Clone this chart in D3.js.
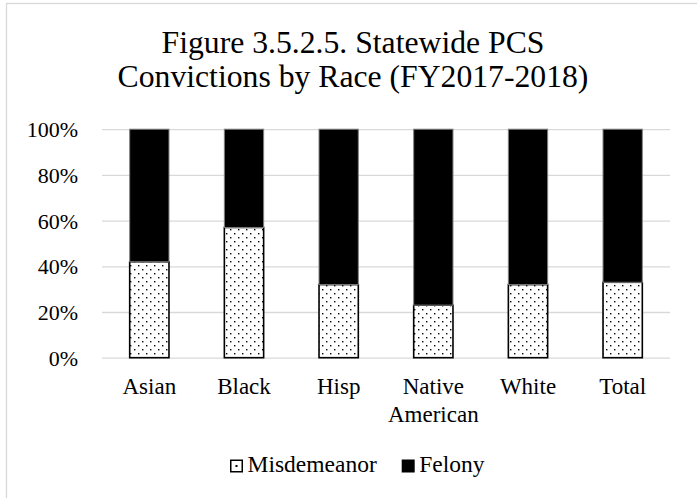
<!DOCTYPE html>
<html>
<head>
<meta charset="utf-8">
<script src="https://cdn.jsdelivr.net/npm/d3@7"></script>
<style>
  html, body { margin: 0; padding: 0; background: #fff; }
  svg { display: block; font-family: "Liberation Serif", "Times New Roman", serif; }
</style>
</head>
<body>
<svg id="chart" width="697" height="498"></svg>
<script>
// PCS convictions by race, FY2017-2018 (share of convictions, %)
const categories = ["Asian", "Black", "Hisp", "Native American", "White", "Total"];
const misdemeanor = [42, 57, 32, 23, 32, 33];
const felony = [58, 43, 68, 77, 68, 67];
const seriesNames = ["Misdemeanor", "Felony"];
const yTicks = [0, 20, 40, 60, 80, 100];
const titleLines = ["Figure 3.5.2.5. Statewide PCS", "Convictions by Race (FY2017-2018)"];

const svg = d3.select("#chart");
const W = 697, H = 498;

svg.append("rect").attr("width", W).attr("height", H).attr("fill", "#fff");

// chart-area frame (runs past the right and bottom edges)
svg.append("rect")
  .attr("x", 6.5).attr("y", 3.5)
  .attr("width", 900).attr("height", 700)
  .attr("fill", "none").attr("stroke", "#d9d9d9").attr("stroke-width", 1.3);

// dotted fill for misdemeanor
const defs = svg.append("defs");
const pat = defs.append("pattern")
  .attr("id", "dots").attr("patternUnits", "userSpaceOnUse")
  .attr("width", 8).attr("height", 8);
pat.append("rect").attr("width", 8).attr("height", 8).attr("fill", "#fff");
pat.append("rect").attr("x", 2).attr("y", 1).attr("width", 1.4).attr("height", 1.4).attr("fill", "#000");
pat.append("rect").attr("x", 6).attr("y", 5).attr("width", 1.4).attr("height", 1.4).attr("fill", "#000");

// title
svg.append("text")
  .attr("text-anchor", "middle")
  .attr("font-size", 31.7)
  .attr("fill", "#000")
  .selectAll("tspan").data(titleLines).join("tspan")
  .attr("x", 353)
  .attr("y", (d, i) => 52.7 + i * 34)
  .text(d => d);

const plotLeft = 102, plotRight = 670, plotTop = 129.2, plotBottom = 357.7;

const x = d3.scaleBand().domain(categories).range([plotLeft, plotRight])
  .paddingInner(0.585).paddingOuter(0.2925);
const y = d3.scaleLinear().domain([0, 100]).range([plotBottom, plotTop]);

// gridlines
const grid = svg.append("g").attr("transform", `translate(${plotLeft},0)`)
  .call(d3.axisLeft(y).tickValues(yTicks).tickSize(-(plotRight - plotLeft)).tickFormat(""));
grid.select(".domain").remove();
grid.selectAll(".tick line").attr("stroke", "#d9d9d9").attr("stroke-width", 1.3);

// y axis labels
const yAxis = svg.append("g").attr("transform", "translate(78,0)")
  .call(d3.axisLeft(y).tickValues(yTicks).tickSize(0).tickPadding(0).tickFormat(d => d + "%"));
yAxis.select(".domain").remove();
yAxis.selectAll("text")
  .attr("font-family", "Liberation Serif, Times New Roman, serif")
  .attr("font-size", 22).attr("fill", "#000").attr("dy", "0.34em");

// stacked bars
const rows = categories.map((c, i) => ({ cat: c, Misdemeanor: misdemeanor[i], Felony: felony[i] }));
const stack = d3.stack().keys(seriesNames)(rows);
const fills = { Misdemeanor: "url(#dots)", Felony: "#000" };
const strokes = { Misdemeanor: "#000", Felony: "#7f7f7f" };
const strokeW = { Misdemeanor: 1.6, Felony: 1 };

svg.append("g").selectAll("g").data(stack).join("g")
  .each(function (s) {
    d3.select(this).selectAll("rect").data(s).join("rect")
      .attr("x", d => x(d.data.cat))
      .attr("width", x.bandwidth())
      .attr("y", d => y(d[1]))
      .attr("height", d => y(d[0]) - y(d[1]))
      .attr("fill", fills[s.key])
      .attr("stroke", strokes[s.key])
      .attr("stroke-width", strokeW[s.key]);
  });

// category axis
const xAxis = svg.append("g").attr("transform", `translate(0,${plotBottom})`)
  .call(d3.axisBottom(x).tickSize(0).tickFormat(""));
xAxis.select(".domain").remove();
xAxis.selectAll(".tick").append("text")
  .attr("text-anchor", "middle")
  .attr("font-family", "Liberation Serif, Times New Roman, serif")
  .attr("font-size", 23).attr("fill", "#000")
  .each(function (d) {
    d3.select(this).selectAll("tspan").data(d.split(" ")).join("tspan")
      .attr("x", 0)
      .attr("y", (t, i) => 36.5 + i * 27.5)
      .text(t => t);
  });

// legend
const legendX = [230, 401.7];
const legend = svg.append("g").selectAll("g").data(seriesNames).join("g")
  .attr("transform", (d, i) => `translate(${legendX[i]},459.5)`);
legend.append("rect")
  .attr("x", 0.75).attr("y", 0.75).attr("width", 11.5).attr("height", 11.5)
  .attr("fill", d => d === "Misdemeanor" ? "#fff" : "#000")
  .attr("stroke", "#000").attr("stroke-width", 1.5);
legend.filter(d => d === "Misdemeanor").append("rect")
  .attr("x", 5.5).attr("y", 5.5).attr("width", 2).attr("height", 2).attr("fill", "#000");
legend.append("text")
  .attr("x", 17.5).attr("y", 12.8)
  .attr("font-size", 23.5).attr("fill", "#000")
  .text(d => d);
</script>
</body>
</html>
